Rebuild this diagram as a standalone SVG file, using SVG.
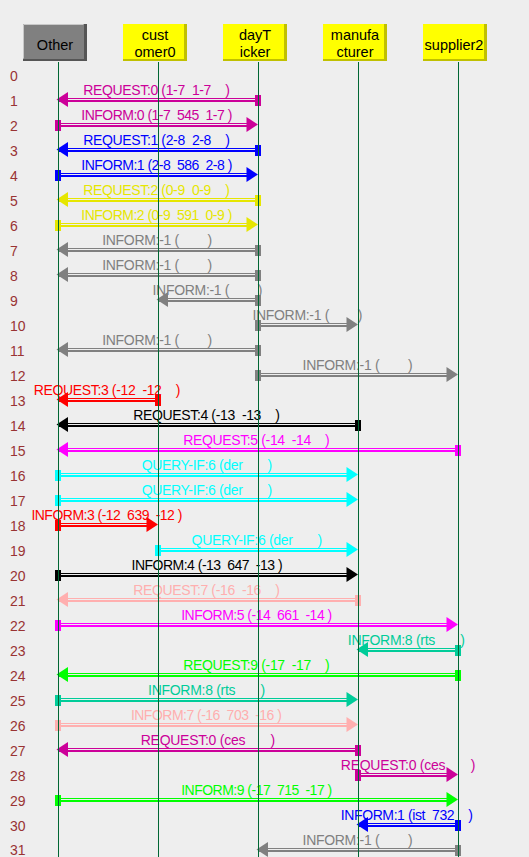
<svg xmlns="http://www.w3.org/2000/svg" xmlns:xlink="http://www.w3.org/1999/xlink" width="529" height="857" viewBox="0 0 529 857">
<style>
.bg{fill:#eeeeee}
.life{stroke:#006633;stroke-width:1}
.hdr{font-family:"Liberation Sans",Arial,sans-serif;font-size:14.5px;fill:#000;text-anchor:middle}
.num{font-family:"Liberation Sans",Arial,sans-serif;font-size:14px;fill:#993333}
.lbl{font-family:"Liberation Sans",Arial,sans-serif;font-size:14px;white-space:pre}
.shY{fill:#c0c000}
.boxY{fill:#ffff00}
</style>
<defs>
<polygon id="hl" points="0,0 11.5,-7.5 11.5,7.5"/>
<polygon id="hr" points="0,0 -11.5,-7.5 -11.5,7.5"/>
<rect id="mk" x="0" y="0" width="6" height="11"/>
</defs>
<rect class="bg" x="0" y="0" width="529" height="857"/>

<g id="row-numbers" class="num">
<text x="10" y="81">0</text><text x="10" y="106">1</text><text x="10" y="131">2</text><text x="10" y="156">3</text>
<text x="10" y="181">4</text><text x="10" y="206">5</text><text x="10" y="231">6</text><text x="10" y="256">7</text>
<text x="10" y="281">8</text><text x="10" y="306">9</text><text x="10" y="331">10</text><text x="10" y="356">11</text>
<text x="10" y="381">12</text><text x="10" y="406">13</text><text x="10" y="431">14</text><text x="10" y="456">15</text>
<text x="10" y="481">16</text><text x="10" y="506">17</text><text x="10" y="531">18</text><text x="10" y="556">19</text>
<text x="10" y="581">20</text><text x="10" y="606">21</text><text x="10" y="631">22</text><text x="10" y="656">23</text>
<text x="10" y="681">24</text><text x="10" y="706">25</text><text x="10" y="731">26</text><text x="10" y="756">27</text>
<text x="10" y="781">28</text><text x="10" y="806">29</text><text x="10" y="831">30</text><text x="10" y="854.5">31</text>
</g>

<g id="connectors" xml:space="preserve">
<g transform="translate(0,25)" fill="#cc0099"><rect x="58" y="73" width="200" height="1"/><rect x="58" y="75" width="200" height="2"/><use xlink:href="#mk" x="255" y="70"/><use xlink:href="#hl" x="56.5" y="74.5"/><text class="lbl" x="83.3" y="70" textLength="146.5">REQUEST:0 (1-7  1-7    )</text></g>
<g transform="translate(0,50)" fill="#cc0099"><rect x="58" y="73" width="195" height="1"/><rect x="58" y="75" width="195" height="2"/><use xlink:href="#mk" x="55" y="70"/><use xlink:href="#hr" x="258" y="74.5"/><text class="lbl" x="81.3" y="70" textLength="151">INFORM:0 (1-7  545  1-7 )</text></g>
<g transform="translate(0,75)" fill="#0000ff"><rect x="58" y="73" width="200" height="1"/><rect x="58" y="75" width="200" height="2"/><use xlink:href="#mk" x="255" y="70"/><use xlink:href="#hl" x="56.5" y="74.5"/><text class="lbl" x="83.3" y="70" textLength="146.5">REQUEST:1 (2-8  2-8    )</text></g>
<g transform="translate(0,100)" fill="#0000ff"><rect x="58" y="73" width="195" height="1"/><rect x="58" y="75" width="195" height="2"/><use xlink:href="#mk" x="55" y="70"/><use xlink:href="#hr" x="258" y="74.5"/><text class="lbl" x="81.3" y="70" textLength="151">INFORM:1 (2-8  586  2-8 )</text></g>
<g transform="translate(0,125)" fill="#e6e600"><rect x="58" y="73" width="200" height="1"/><rect x="58" y="75" width="200" height="2"/><use xlink:href="#mk" x="255" y="70"/><use xlink:href="#hl" x="56.5" y="74.5"/><text class="lbl" x="83.3" y="70" textLength="146.5">REQUEST:2 (0-9  0-9    )</text></g>
<g transform="translate(0,150)" fill="#e6e600"><rect x="58" y="73" width="195" height="1"/><rect x="58" y="75" width="195" height="2"/><use xlink:href="#mk" x="55" y="70"/><use xlink:href="#hr" x="258" y="74.5"/><text class="lbl" x="81.3" y="70" textLength="151">INFORM:2 (0-9  591  0-9 )</text></g>
<g transform="translate(0,175)" fill="#808080"><rect x="58" y="73" width="200" height="1"/><rect x="58" y="75" width="200" height="2"/><use xlink:href="#mk" x="255" y="70"/><use xlink:href="#hl" x="56.5" y="74.5"/><text class="lbl" x="102.2" y="70" textLength="110">INFORM:-1 (        )</text></g>
<g transform="translate(0,200)" fill="#808080"><rect x="58" y="73" width="200" height="1"/><rect x="58" y="75" width="200" height="2"/><use xlink:href="#mk" x="255" y="70"/><use xlink:href="#hl" x="56.5" y="74.5"/><text class="lbl" x="102.2" y="70" textLength="110">INFORM:-1 (        )</text></g>
<g transform="translate(0,225)" fill="#808080"><rect x="158" y="73" width="100" height="1"/><rect x="158" y="75" width="100" height="2"/><use xlink:href="#mk" x="255" y="70"/><use xlink:href="#hl" x="156.5" y="74.5"/><text class="lbl" x="152.5" y="70" textLength="110">INFORM:-1 (        )</text></g>
<g transform="translate(0,250)" fill="#808080"><rect x="258" y="73" width="95" height="1"/><rect x="258" y="75" width="95" height="2"/><use xlink:href="#mk" x="255" y="70"/><use xlink:href="#hr" x="358" y="74.5"/><text class="lbl" x="252.4" y="70" textLength="110">INFORM:-1 (        )</text></g>
<g transform="translate(0,275)" fill="#808080"><rect x="58" y="73" width="200" height="1"/><rect x="58" y="75" width="200" height="2"/><use xlink:href="#mk" x="255" y="70"/><use xlink:href="#hl" x="56.5" y="74.5"/><text class="lbl" x="102.2" y="70" textLength="110">INFORM:-1 (        )</text></g>
<g transform="translate(0,300)" fill="#808080"><rect x="258" y="73" width="195" height="1"/><rect x="258" y="75" width="195" height="2"/><use xlink:href="#mk" x="255" y="70"/><use xlink:href="#hr" x="458" y="74.5"/><text class="lbl" x="302.6" y="70" textLength="110">INFORM:-1 (        )</text></g>
<g transform="translate(0,325)" fill="#ff0000"><rect x="58" y="73" width="100" height="1"/><rect x="58" y="75" width="100" height="2"/><use xlink:href="#mk" x="155" y="70"/><use xlink:href="#hl" x="56.5" y="74.5"/><text class="lbl" x="33.8" y="70" textLength="146.5">REQUEST:3 (-12  -12    )</text></g>
<g transform="translate(0,350)" fill="#000000"><rect x="58" y="73" width="300" height="1"/><rect x="58" y="75" width="300" height="2"/><use xlink:href="#mk" x="355" y="70"/><use xlink:href="#hl" x="56.5" y="74.5"/><text class="lbl" x="133.3" y="70" textLength="146.5">REQUEST:4 (-13  -13    )</text></g>
<g transform="translate(0,375)" fill="#ff00ff"><rect x="58" y="73" width="400" height="1"/><rect x="58" y="75" width="400" height="2"/><use xlink:href="#mk" x="455" y="70"/><use xlink:href="#hl" x="56.5" y="74.5"/><text class="lbl" x="183.2" y="70" textLength="146.5">REQUEST:5 (-14  -14    )</text></g>
<g transform="translate(0,400)" fill="#00ffff"><rect x="58" y="73" width="295" height="1"/><rect x="58" y="75" width="295" height="2"/><use xlink:href="#mk" x="55" y="70"/><use xlink:href="#hr" x="358" y="74.5"/><text class="lbl" x="141.7" y="70" textLength="130.5">QUERY-IF:6 (der       )</text></g>
<g transform="translate(0,425)" fill="#00ffff"><rect x="58" y="73" width="295" height="1"/><rect x="58" y="75" width="295" height="2"/><use xlink:href="#mk" x="55" y="70"/><use xlink:href="#hr" x="358" y="74.5"/><text class="lbl" x="141.7" y="70" textLength="130.5">QUERY-IF:6 (der       )</text></g>
<g transform="translate(0,450)" fill="#ff0000"><rect x="58" y="73" width="95" height="1"/><rect x="58" y="75" width="95" height="2"/><use xlink:href="#mk" x="55" y="70"/><use xlink:href="#hr" x="158" y="74.5"/><text class="lbl" x="31.4" y="70" textLength="151">INFORM:3 (-12  639  -12 )</text></g>
<g transform="translate(0,475)" fill="#00ffff"><rect x="158" y="73" width="195" height="1"/><rect x="158" y="75" width="195" height="2"/><use xlink:href="#mk" x="155" y="70"/><use xlink:href="#hr" x="358" y="74.5"/><text class="lbl" x="191.6" y="70" textLength="130.5">QUERY-IF:6 (der       )</text></g>
<g transform="translate(0,500)" fill="#000000"><rect x="58" y="73" width="295" height="1"/><rect x="58" y="75" width="295" height="2"/><use xlink:href="#mk" x="55" y="70"/><use xlink:href="#hr" x="358" y="74.5"/><text class="lbl" x="131.6" y="70" textLength="151">INFORM:4 (-13  647  -13 )</text></g>
<g transform="translate(0,525)" fill="#ffafaf"><rect x="58" y="73" width="300" height="1"/><rect x="58" y="75" width="300" height="2"/><use xlink:href="#mk" x="355" y="70"/><use xlink:href="#hl" x="56.5" y="74.5"/><text class="lbl" x="133.3" y="70" textLength="146.5">REQUEST:7 (-16  -16    )</text></g>
<g transform="translate(0,550)" fill="#ff00ff"><rect x="58" y="73" width="395" height="1"/><rect x="58" y="75" width="395" height="2"/><use xlink:href="#mk" x="55" y="70"/><use xlink:href="#hr" x="458" y="74.5"/><text class="lbl" x="181.2" y="70" textLength="151">INFORM:5 (-14  661  -14 )</text></g>
<g transform="translate(0,575)" fill="#00cc99"><rect x="358" y="73" width="100" height="1"/><rect x="358" y="75" width="100" height="2"/><use xlink:href="#mk" x="455" y="70"/><use xlink:href="#hl" x="356.5" y="74.5"/><text class="lbl" x="347.8" y="70" textLength="117">INFORM:8 (rts       )</text></g>
<g transform="translate(0,600)" fill="#00ff00"><rect x="58" y="73" width="400" height="1"/><rect x="58" y="75" width="400" height="2"/><use xlink:href="#mk" x="455" y="70"/><use xlink:href="#hl" x="56.5" y="74.5"/><text class="lbl" x="183.2" y="70" textLength="146.5">REQUEST:9 (-17  -17    )</text></g>
<g transform="translate(0,625)" fill="#00cc99"><rect x="58" y="73" width="295" height="1"/><rect x="58" y="75" width="295" height="2"/><use xlink:href="#mk" x="55" y="70"/><use xlink:href="#hr" x="358" y="74.5"/><text class="lbl" x="148.1" y="70" textLength="117">INFORM:8 (rts       )</text></g>
<g transform="translate(0,650)" fill="#ffafaf"><rect x="58" y="73" width="295" height="1"/><rect x="58" y="75" width="295" height="2"/><use xlink:href="#mk" x="55" y="70"/><use xlink:href="#hr" x="358" y="74.5"/><text class="lbl" x="130.9" y="70" textLength="151">INFORM:7 (-16  703  -16 )</text></g>
<g transform="translate(0,675)" fill="#cc0099"><rect x="58" y="73" width="300" height="1"/><rect x="58" y="75" width="300" height="2"/><use xlink:href="#mk" x="355" y="70"/><use xlink:href="#hl" x="56.5" y="74.5"/><text class="lbl" x="140.7" y="70" textLength="134.5">REQUEST:0 (ces       )</text></g>
<g transform="translate(0,700)" fill="#cc0099"><rect x="358" y="73" width="95" height="1"/><rect x="358" y="75" width="95" height="2"/><use xlink:href="#mk" x="355" y="70"/><use xlink:href="#hr" x="458" y="74.5"/><text class="lbl" x="340.8" y="70" textLength="134.5">REQUEST:0 (ces       )</text></g>
<g transform="translate(0,725)" fill="#00ff00"><rect x="58" y="73" width="395" height="1"/><rect x="58" y="75" width="395" height="2"/><use xlink:href="#mk" x="55" y="70"/><use xlink:href="#hr" x="458" y="74.5"/><text class="lbl" x="181.2" y="70" textLength="151">INFORM:9 (-17  715  -17 )</text></g>
<g transform="translate(0,750)" fill="#0000ff"><rect x="358" y="73" width="100" height="1"/><rect x="358" y="75" width="100" height="2"/><use xlink:href="#mk" x="455" y="70"/><use xlink:href="#hl" x="356.5" y="74.5"/><text class="lbl" x="340.8" y="70" textLength="132">INFORM:1 (ist  732    )</text></g>
<g transform="translate(0,775)" fill="#808080"><rect x="258" y="73" width="200" height="1"/><rect x="258" y="75" width="200" height="2"/><use xlink:href="#mk" x="455" y="70"/><use xlink:href="#hl" x="256.5" y="74.5"/><text class="lbl" x="302.6" y="70" textLength="110">INFORM:-1 (        )</text></g>
</g>

<g id="node-other">
<rect x="23" y="24" width="64" height="37" fill="#555555"/>
<rect x="23" y="24" width="61" height="35" fill="#808080"/>
<path d="M23.5,58.5 V24.5 H83.5" stroke="#c8c8c8" fill="none"/>
<text class="hdr" x="55" y="50">Other</text>
<line class="life" x1="58.5" y1="62" x2="58.5" y2="857"/>
</g>
<g id="node-customer0">
<rect class="shY" x="123" y="24" width="64" height="37"/>
<rect class="boxY" x="123" y="24" width="61" height="35"/>
<text class="hdr" x="155" y="40">cust</text>
<text class="hdr" x="155" y="57">omer0</text>
<line class="life" x1="158.5" y1="62" x2="158.5" y2="857"/>
</g>
<g id="node-dayTicker">
<rect class="shY" x="223" y="24" width="64" height="37"/>
<rect class="boxY" x="223" y="24" width="61" height="35"/>
<text class="hdr" x="255" y="40">dayT</text>
<text class="hdr" x="255" y="57">icker</text>
<line class="life" x1="258.5" y1="62" x2="258.5" y2="857"/>
</g>
<g id="node-manufacturer">
<rect class="shY" x="323" y="24" width="64" height="37"/>
<rect class="boxY" x="323" y="24" width="61" height="35"/>
<text class="hdr" x="355" y="40">manufa</text>
<text class="hdr" x="355" y="57">cturer</text>
<line class="life" x1="358.5" y1="62" x2="358.5" y2="857"/>
</g>
<g id="node-supplier2">
<rect class="shY" x="423" y="24" width="64" height="37"/>
<rect class="boxY" x="423" y="24" width="61" height="35"/>
<text class="hdr" x="454" y="50">supplier2</text>
<line class="life" x1="458.5" y1="62" x2="458.5" y2="857"/>
</g>
</svg>
